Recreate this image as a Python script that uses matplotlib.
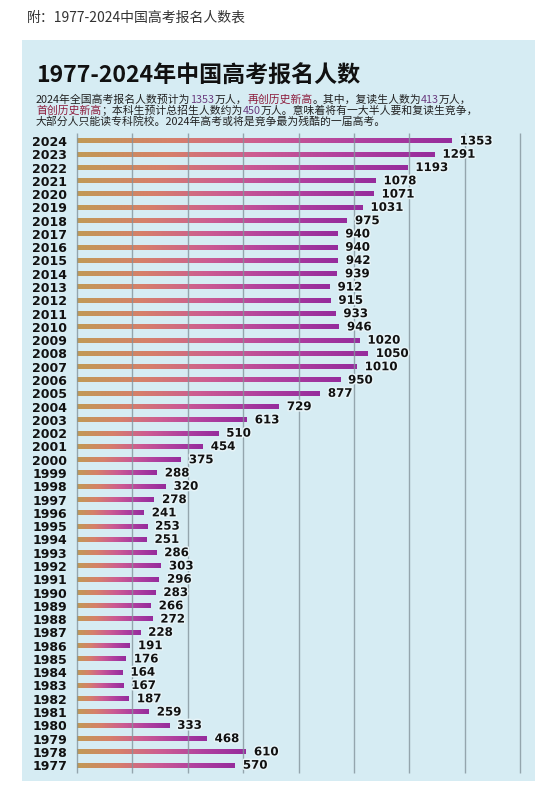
import matplotlib
matplotlib.use("Agg")
import matplotlib.pyplot as plt
import matplotlib.patheffects as pe
import numpy as np
from matplotlib.colors import LinearSegmentedColormap
from matplotlib.patches import Rectangle

years = list(range(2024, 1976, -1))
applicants = [1353, 1291, 1193, 1078, 1071, 1031, 975, 940, 940, 942,
              939, 912, 915, 933, 946, 1020, 1050, 1010, 950, 877,
              729, 613, 510, 454, 375, 288, 320, 278, 241, 253,
              251, 286, 303, 296, 283, 266, 272, 228, 191, 176,
              164, 167, 187, 259, 333, 468, 610, 570]
grid_values = [0, 200, 400, 600, 800, 1000, 1200, 1400, 1600]

caption = "附：1977-2024中国高考报名人数表"
title = "1977-2024年中国高考报名人数"
dark, red, purple = "#222222", "#8e1f3f", "#6b3d80"
subtitle_lines = [
    [("2024年全国高考报名人数预计为", dark), ("1353", purple), ("万人，", dark),
     ("再创历史新高", red), ("。其中，复读生人数为", dark), ("413", purple), ("万人，", dark)],
    [("首创历史新高", red), ("；本科生预计总招生人数约为", dark), ("450", purple),
     ("万人。意味着将有一大半人要和复读生竞争，", dark)],
    [("大部分人只能读专科院校。2024年高考或将是竞争最为残酷的一届高考。", dark)],
]

W, H = 551, 793
cjk = ["Noto Sans CJK SC", "DejaVu Sans"]

fig = plt.figure(figsize=(W / 100, H / 100), dpi=100)
fig.patch.set_facecolor("white")

# light blue card behind the chart
fig.patches.append(Rectangle((22 / W, 1 - 781 / H), 513 / W, 741 / H,
                             transform=fig.transFigure, facecolor="#d6ecf3",
                             edgecolor="none", zorder=-5))

fig.text(27 / W, 1 - 18 / H, caption, family=cjk, fontsize=10,
         color="#333333", va="center", ha="left")
fig.text(36 / W, 1 - 76 / H, title, family=cjk, fontsize=16.6,
         fontweight="bold", color="#111111", va="center", ha="left")

# subtitle with coloured pieces, placed one after the other
renderer = fig.canvas.get_renderer()
for k, parts in enumerate(subtitle_lines):
    x = 36 / W
    y = 1 - (100 + k * 10.8) / H
    for txt, col in parts:
        t = fig.text(x, y, txt, family=cjk, fontsize=7.8, color=col,
                     va="center", ha="left")
        bb = t.get_window_extent(renderer)
        x += bb.width / W

# bar chart area
ax = fig.add_axes([77 / W, 1 - 773 / H, 443 / W, 640 / H], zorder=2)
ax.set_facecolor("none")

cmap = LinearSegmentedColormap.from_list(
    "bar", ["#c19a55", "#d6806a", "#cc5c92", "#b0409f", "#962c9c"])
grad = np.linspace(0, 1, 256).reshape(1, -1)
bar_h = 0.36
pos = np.arange(len(years))
halo = [pe.withStroke(linewidth=2.2, foreground="#e6f3f7")]
for i, v in zip(pos, applicants):
    ax.imshow(grad, cmap=cmap, aspect="auto", interpolation="bilinear",
              extent=[0, v, i + bar_h / 2, i - bar_h / 2], zorder=2)
    ax.annotate(str(v), xy=(v, i), xytext=(5.8, 0), textcoords="offset points",
                va="center", ha="left", fontsize=8.5, fontweight="bold",
                color="#111111", family="DejaVu Sans", zorder=5,
                path_effects=halo)

ax.set_xlim(0, 1600)
ax.set_ylim(47.59, -0.60)

# vertical guide lines, drawn over the bars like in the original
ax.vlines(grid_values, 47.59, -0.60, colors="#84949c", linewidth=1.0,
          alpha=0.8, zorder=3, clip_on=False)

ax.set_xticks([])
ax.set_yticks(pos)
ax.set_yticklabels([str(y) for y in years], fontsize=9, fontweight="bold",
                   color="#111111", family="DejaVu Sans")
ax.tick_params(axis="y", length=0, pad=7)

for s in ax.spines.values():
    s.set_visible(False)

fig.savefig("out.png", dpi=100, facecolor="white")
